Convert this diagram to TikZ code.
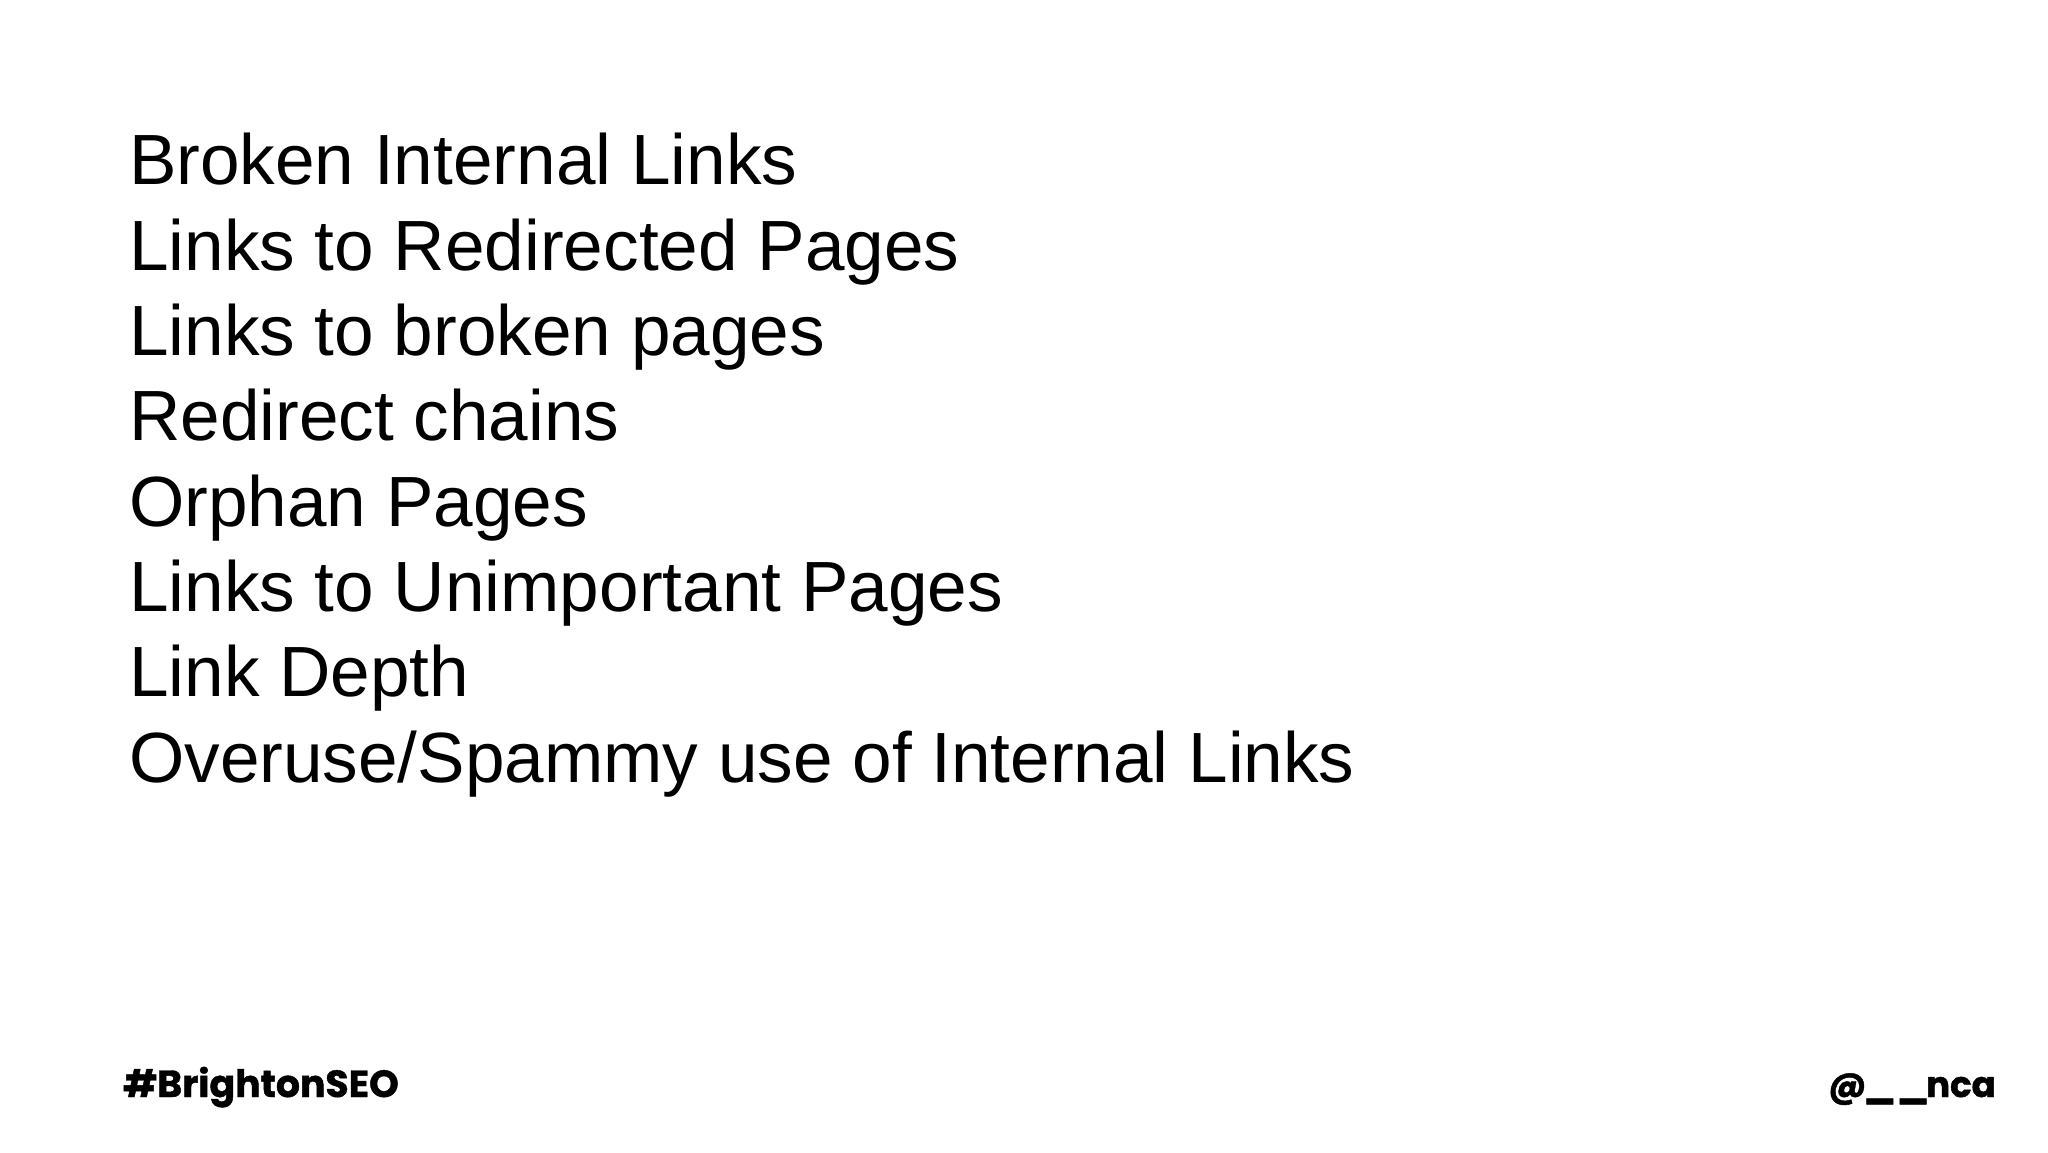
\documentclass[tikz,border=0pt]{standalone}
\usepackage{fontspec}
\usepackage{graphicx}
\setmainfont{Liberation Sans}
\newfontfamily\tagfont[FakeBold=1.2]{Poppins Bold}
\usetikzlibrary{positioning}
\tikzset{list node/.style={anchor=base west,inner sep=0pt,font=\fontsize{75.9pt}{80pt}\selectfont},
tag node/.style={inner sep=0pt,anchor=base,font=\tagfont\fontsize{40.3pt}{42pt}\selectfont},
}

\begin{document}
\begin{tikzpicture}[x=0.0375cm,y=-0.0375cm]
	\useasboundingbox[fill=white] (0,0) rectangle (2048,1152);
	\node[list node] (1) at (129,184) {Broken Internal Links};
	\node[list node] (2) at (129,270) {Links to Redirected Pages};
	\node[list node] (3) at (129,355) {Links to broken pages};
	\node[list node] (4) at (129,440) {Redirect chains};
	\node[list node] (5) at (129,526) {Orphan Pages};
	\node[list node] (6) at (129,611) {Links to Unimportant Pages};
	\node[list node] (7) at (129,696) {Link Depth};
	\node[list node] (8) at (129,782) {Overuse/Spammy use of Internal Links};
	\node[tag node,anchor=base west] (tag) at (123,1097) {\#BrightonSEO};
	\node[tag node,anchor=base east,font=\tagfont\fontsize{38pt}{42pt}\selectfont] (handle) at (1996,1097) {@\kern-.1em\scalebox{1.2}[1]{\_\_}\kern-.1em nca};
\end{tikzpicture}
\end{document}
